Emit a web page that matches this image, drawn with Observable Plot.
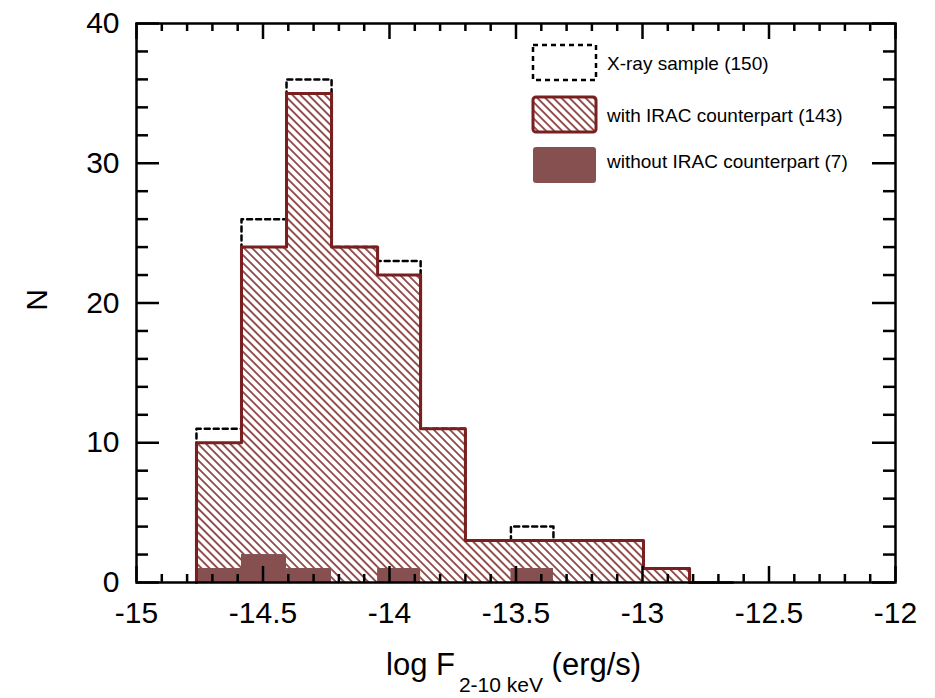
<!DOCTYPE html>
<html><head><meta charset="utf-8">
<script src="https://cdn.jsdelivr.net/npm/d3@7"></script>
<script src="https://cdn.jsdelivr.net/npm/@observablehq/plot@0.6"></script>
<style>
body{margin:0;background:#fff}
#chart svg{font-family:"Liberation Sans",Arial,Helvetica,sans-serif;background:#fff}
</style>
</head><body><div id="chart"></div>
<script>
// bin edges (log F 2-10 keV)
const binEdges = [-14.763, -14.585, -14.407, -14.229, -14.047, -13.877, -13.700, -13.520, -13.352, -13.175, -12.996, -12.814, -12.644];
// counts per bin
const xraySample  = [11, 26, 36, 24, 23, 11, 3, 4, 3, 3, 1, 0];
const withIRAC    = [10, 24, 35, 24, 22, 11, 3, 3, 3, 3, 1, 0];
const withoutIRAC = [ 1,  2,  1,  0,  1,  0, 0, 1, 0, 0, 0, 0];
// axes
const xTicks = [-15, -14.5, -14, -13.5, -13, -12.5, -12];
const yTicks = [0, 10, 20, 30, 40];
const legendLabels = ["X-ray sample (150)", "with IRAC counterpart (143)", "without IRAC counterpart (7)"];
const xTitle = ["log F", "2-10 keV", " (erg/s)"];
const yTitle = "N";

const W = 935, H = 698, mL = 136, mR = 40, mT = 23, mB = 116;
const iw = W - mL - mR, ih = H - mT - mB;
const red = "#7a1f1f", darkFill = "#875050";

const bins = withIRAC.map((v, i) => ({x1: binEdges[i], x2: binEdges[i + 1], xray: xraySample[i], irac: v, noirac: withoutIRAC[i]}));
function stepPoints(key) {
  const pts = [{x: binEdges[0], y: 0}];
  bins.forEach(b => { pts.push({x: b.x1, y: b[key]}); pts.push({x: b.x2, y: b[key]}); });
  pts.push({x: binEdges[binEdges.length - 1], y: 0});
  return pts;
}
const minorX = d3.range(-15, -11.99, 0.1).map(d => +d.toFixed(1)).filter(d => !xTicks.some(t => Math.abs(t - d) < 1e-6));
const minorY = d3.range(0, 41, 2).filter(d => !yTicks.includes(d));

const chart = Plot.plot({
  width: W, height: H,
  marginLeft: mL, marginRight: mR, marginTop: mT, marginBottom: mB,
  x: {domain: [-15, -12], axis: null},
  y: {domain: [0, 40], axis: null},
  marks: [
    Plot.rect(bins, {x1: "x1", x2: "x2", y1: 0, y2: "irac", fill: "url(#hatch)"}),
    Plot.rect(bins.filter(b => b.noirac > 0), {x1: "x1", x2: "x2", y1: 0, y2: "noirac", fill: darkFill}),
    Plot.line(stepPoints("xray"), {x: "x", y: "y", stroke: "black", strokeWidth: 2.5, strokeDasharray: "5,4"}),
    Plot.line(stepPoints("irac"), {x: "x", y: "y", stroke: red, strokeWidth: 3}),
    // ticks bottom/top
    Plot.tickX(xTicks, {x: d => d, insetTop: ih - 16, stroke: "black", strokeWidth: 2.5}),
    Plot.tickX(xTicks, {x: d => d, insetBottom: ih - 16, stroke: "black", strokeWidth: 2.5}),
    Plot.tickX(minorX, {x: d => d, insetTop: ih - 8, stroke: "black", strokeWidth: 2.5}),
    Plot.tickX(minorX, {x: d => d, insetBottom: ih - 8, stroke: "black", strokeWidth: 2.5}),
    // ticks left/right
    Plot.tickY(yTicks, {y: d => d, insetRight: iw - 23, stroke: "black", strokeWidth: 2.5}),
    Plot.tickY(yTicks, {y: d => d, insetLeft: iw - 23, stroke: "black", strokeWidth: 2.5}),
    Plot.tickY(minorY, {y: d => d, insetRight: iw - 12, stroke: "black", strokeWidth: 2.5}),
    Plot.tickY(minorY, {y: d => d, insetLeft: iw - 12, stroke: "black", strokeWidth: 2.5}),
    Plot.axisX(xTicks, {anchor: "bottom", tickSize: 0, tickPadding: 19, fontSize: 30, tickFormat: d => String(d), fill: "black"}),
    Plot.axisY(yTicks, {anchor: "left", tickSize: 0, tickPadding: 17, fontSize: 30, tickFormat: d => String(d), fill: "black"}),
    Plot.frame({stroke: "black", strokeWidth: 2.5})
  ]
});

const svg = d3.select(chart);
const defs = svg.insert("defs", ":first-child");
const pat = defs.append("pattern").attr("id", "hatch").attr("patternUnits", "userSpaceOnUse")
  .attr("width", 10).attr("height", 5.7).attr("patternTransform", "rotate(45)");
pat.append("rect").attr("width", 10).attr("height", 5.7).attr("fill", "white");
pat.append("line").attr("x1", 0).attr("x2", 10).attr("y1", 2.85).attr("y2", 2.85)
  .attr("stroke", "#7d2b2b").attr("stroke-width", 1.6);

// axis titles
const xt = svg.append("text").attr("x", 386).attr("y", 675).attr("text-anchor", "start")
  .attr("font-size", 31).attr("fill", "black");
xt.append("tspan").text(xTitle[0]);
xt.append("tspan").attr("dx", 4).attr("dy", 17).attr("font-size", 21).text(xTitle[1]);
xt.append("tspan").attr("dy", -17).text(xTitle[2]);
svg.append("text").attr("transform", "translate(47,300) rotate(-90)").attr("text-anchor", "middle")
  .attr("font-size", 30).attr("fill", "black").text(yTitle);

// legend
const lg = svg.append("g");
const bx = 533, bw = 63, bh = 35;
const rows = [45, 97, 147];
const textY = [65, 117, 163];
lg.append("rect").attr("x", bx).attr("y", rows[0]).attr("width", bw).attr("height", bh)
  .attr("fill", "none").attr("stroke", "black").attr("stroke-width", 2.5).attr("stroke-dasharray", "5,4");
lg.append("rect").attr("x", bx).attr("y", rows[1]).attr("width", bw).attr("height", bh).attr("rx", 3)
  .attr("fill", "url(#hatch)").attr("stroke", red).attr("stroke-width", 3);
lg.append("rect").attr("x", bx).attr("y", rows[2]).attr("width", bw).attr("height", bh + 1).attr("rx", 3)
  .attr("fill", darkFill);
legendLabels.forEach((t, i) => {
  lg.append("text").attr("x", 607).attr("y", textY[i]).attr("text-anchor", "start")
    .attr("dominant-baseline", "middle").attr("font-size", 19).attr("fill", "black").text(t);
});

document.getElementById("chart").appendChild(chart);
</script>
</body></html>
